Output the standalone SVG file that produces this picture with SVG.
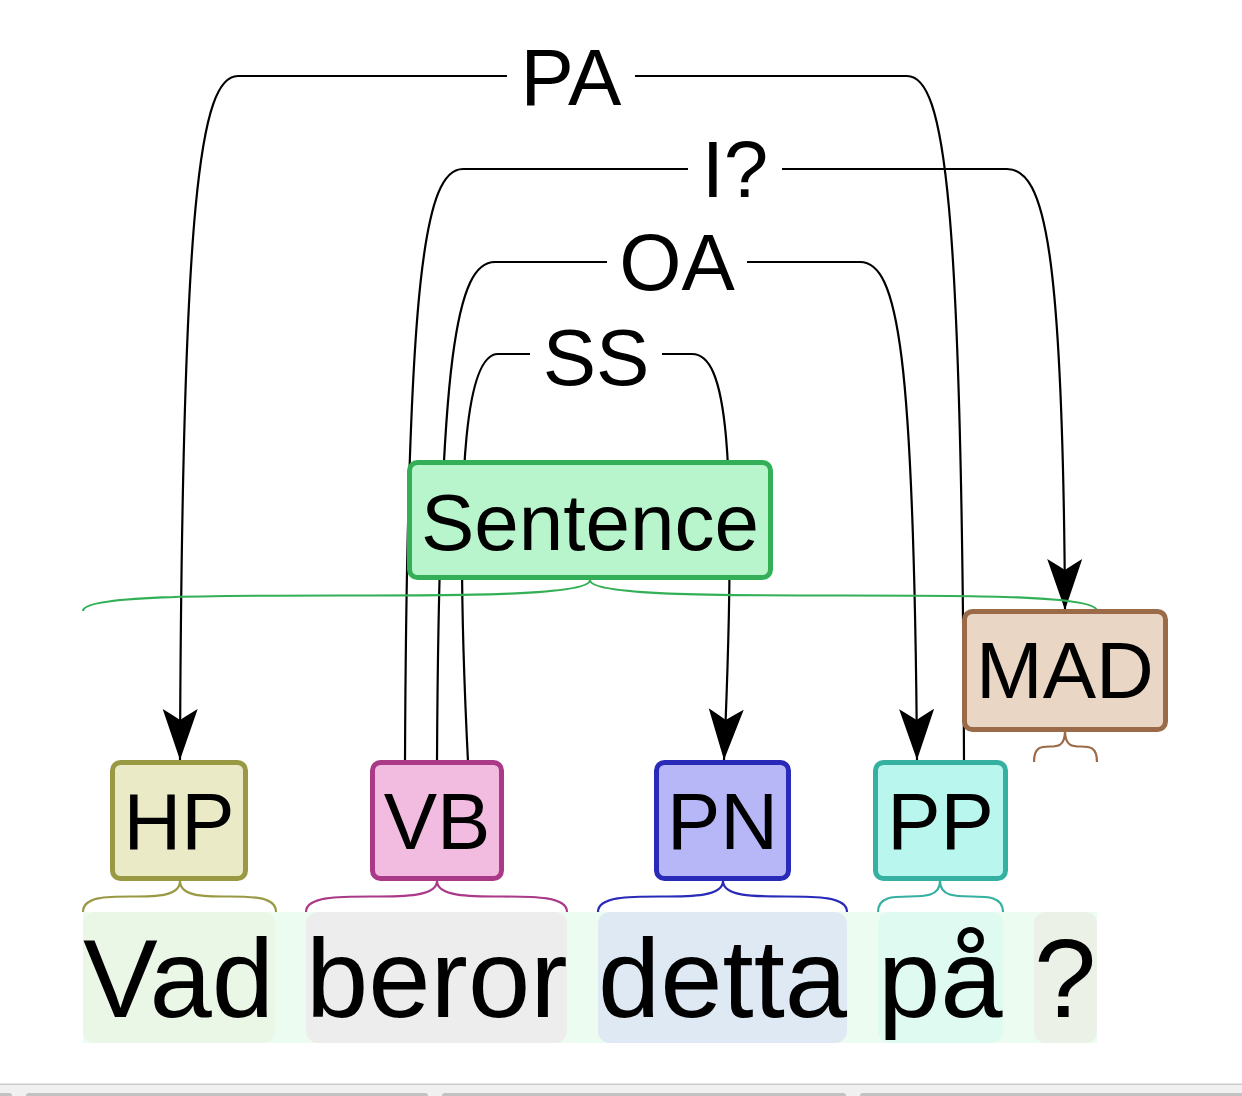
<svg xmlns="http://www.w3.org/2000/svg" width="1242" height="1096" viewBox="0 0 1242 1096">
<style>
text{font-family:"Liberation Sans",Arial,sans-serif;fill:#000}
.arc{fill:none;stroke:#000;stroke-width:2.2}
.lbl{font-size:80px;text-anchor:middle}
.tag{font-size:80px;text-anchor:middle}
.word{font-size:112px}
.curly{fill:none;stroke-width:2.2}
.box{stroke-width:5}
</style>
<defs>
<marker id="ah" markerUnits="userSpaceOnUse" viewBox="-53 -19 54 38" refX="0" refY="0" markerWidth="54" markerHeight="38" orient="auto">
<path d="M0,0 L-51,-17.5 Q-44,-6 -40,0 Q-44,6 -51,17.5 Z" fill="#000"/>
</marker>
</defs>
<rect width="1242" height="1096" fill="#fff"/>

<g id="words">
<rect x="83" y="912" width="1014" height="131" fill="#ecfcf0"/>
<rect x="83" y="912" width="192" height="131" rx="12" fill="#eaf7e6"/>
<rect x="306" y="912" width="261" height="131" rx="12" fill="#eeedee"/>
<rect x="598" y="912" width="249" height="131" rx="12" fill="#dfe9f3"/>
<rect x="878" y="912" width="125" height="131" rx="12" fill="#dffaf1"/>
<rect x="1034" y="912" width="63" height="131" rx="12" fill="#ebf1e7"/>
<text class="word" x="83" y="1017">Vad</text>
<text class="word" x="306" y="1017">beror</text>
<text class="word" x="598" y="1017">detta</text>
<text class="word" x="878" y="1017">på</text>
<text class="word" x="1034" y="1017">?</text>
</g>

<g id="connectors">
<g id="arc-PA">
<path class="arc" d="M507 76 L238 76 C200 76 182 200 180 760" marker-end="url(#ah)"/>
<path class="arc" d="M635 76 L907 76 C945 76 962 200 964 762"/>
<text class="lbl" x="571" y="105">PA</text>
</g>
<g id="arc-I">
<path class="arc" d="M688 169 L463 169 C425 169 407 275 405 762"/>
<path class="arc" d="M782 169 L1007 169 C1045 169 1063 250 1065 610" marker-end="url(#ah)"/>
<text class="lbl" x="735" y="197">I?</text>
</g>
<g id="arc-OA">
<path class="arc" d="M607 262 L495 262 C457 262 439 352 437 762"/>
<path class="arc" d="M747 262 L860 262 C898 262 914 352 917 760" marker-end="url(#ah)"/>
<text class="lbl" x="677" y="290">OA</text>
</g>
<g id="arc-SS">
<path class="arc" d="M530 354 L498 354 C470 354 452 440 468 762"/>
<path class="arc" d="M662 354 L692 354 C726 354 738 440 724 760" marker-end="url(#ah)"/>
<text class="lbl" x="596" y="385">SS</text>
</g>
</g>

<g id="node-Sentence">
<rect class="box" x="409.5" y="462.5" width="361" height="115" rx="8" fill="#b8f5cc" stroke="#33b057"/>
<text class="tag" x="590" y="550">Sentence</text>
<path class="curly" stroke="#33b057" d="M83 611 C83 580 590 611 590 580 C590 611 1097 580 1097 611"/>
</g>

<g id="node-MAD">
<rect class="box" x="964.5" y="611.5" width="201" height="118" rx="8" fill="#ead6c4" stroke="#9b6a48"/>
<text class="tag" x="1065" y="698">MAD</text>
<path class="curly" stroke="#9b6a48" d="M1034 762 C1034 731 1065 762 1065 731 C1065 762 1097 731 1097 762"/>
</g>

<g id="node-HP">
<rect class="box" x="112.5" y="762.5" width="133" height="116" rx="8" fill="#eaeac6" stroke="#999944"/>
<text class="tag" x="179" y="849">HP</text>
<path class="curly" stroke="#999944" d="M83 912 C83 881 180 912 180 881 C180 912 276 881 276 912"/>
</g>

<g id="node-VB">
<rect class="box" x="372.5" y="762.5" width="129" height="116" rx="8" fill="#f2bce0" stroke="#aa3a88"/>
<text class="tag" x="437" y="849">VB</text>
<path class="curly" stroke="#aa3a88" d="M306 912 C306 881 437 912 437 881 C437 912 567 881 567 912"/>
</g>

<g id="node-PN">
<rect class="box" x="656.5" y="762.5" width="132" height="116" rx="8" fill="#b7b7f8" stroke="#2a2ab8"/>
<text class="tag" x="722.5" y="849">PN</text>
<path class="curly" stroke="#2a2ab8" d="M598 912 C598 881 723 912 723 881 C723 912 847 881 847 912"/>
</g>

<g id="node-PP">
<rect class="box" x="875.5" y="762.5" width="130" height="116" rx="8" fill="#b8f6ee" stroke="#36b0a0"/>
<text class="tag" x="940.5" y="849">PP</text>
<path class="curly" stroke="#36b0a0" d="M878 912 C878 881 940 912 940 881 C940 912 1003 881 1003 912"/>
</g>

<g id="scrollbar">
<rect x="0" y="1084" width="1242" height="12" fill="#f0f0f0"/>
<rect x="0" y="1083.5" width="1242" height="1.5" fill="#cccccc"/>
<rect x="-4" y="1093" width="16" height="6" rx="3" fill="#c2c2c2"/>
<rect x="26" y="1093" width="402" height="6" rx="3" fill="#c2c2c2"/>
<rect x="442" y="1093" width="404" height="6" rx="3" fill="#c2c2c2"/>
<rect x="860" y="1093" width="390" height="6" rx="3" fill="#c2c2c2"/>
</g>
</svg>
